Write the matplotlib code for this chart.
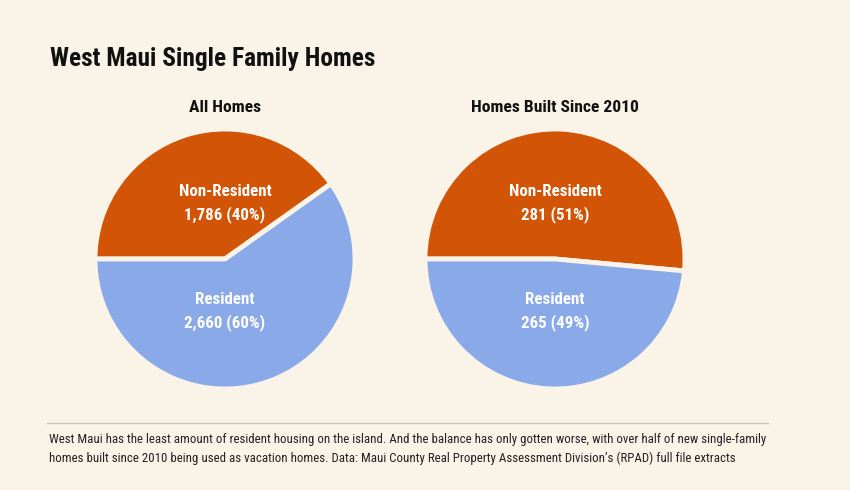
import matplotlib
matplotlib.use("Agg")
import matplotlib.pyplot as plt
from matplotlib import font_manager as fm

# Data
labels = ["Non-Resident", "Resident"]
all_homes = [1786, 2660]
all_pct = [40, 60]
new_homes = [281, 265]
new_pct = [51, 49]
panel_titles = ["All Homes", "Homes Built Since 2010"]
title = "West Maui Single Family Homes"
footer = ("West Maui has the least amount of resident housing on the island. And the balance has only gotten worse, with over half of new single-family\n"
          "homes built since 2010 being used as vacation homes. Data: Maui County Real Property Assessment Division\u2019s (RPAD) full file extracts")

BG = "#faf3e8"
ORANGE = "#d25406"
BLUE = "#89a9e9"

names = {f.name for f in fm.fontManager.ttflist}
cond = None
for cand in ["Roboto Condensed", "Liberation Sans Narrow", "DejaVu Sans Condensed", "Open Sans Condensed"]:
    if cand in names:
        cond = cand
        break
if cond is None:
    cond = "DejaVu Sans"
    STRETCH = "condensed"
else:
    STRETCH = "normal"

W, H = 850, 490
fig = plt.figure(figsize=(W / 100, H / 100), dpi=100, facecolor=BG)

def px_axes(cx, cy, r):
    return fig.add_axes([(cx - r) / W, (H - cy - r) / H, 2 * r / W, 2 * r / H])

datasets = [(all_homes, all_pct, 225), (new_homes, new_pct, 555)]
for (vals, pcts, cx), ptitle in zip(datasets, panel_titles):
    ax = px_axes(cx, 259, 130)
    ax.set_facecolor(BG)
    ax.pie(vals, colors=[ORANGE, BLUE], startangle=180, counterclock=False,
           radius=1.0, wedgeprops=dict(edgecolor=BG, linewidth=3.5))
    ax.set_xlim(-1.0, 1.0)
    ax.set_ylim(-1.0, 1.0)
    ax.set_aspect("equal")
    ax.axis("off")
    kw = dict(ha="center", va="center", color="white", fontsize=12.2, fontweight="bold",
              family=cond, fontstretch=STRETCH)
    ax.text(0, 0.52, labels[0], **kw)
    ax.text(0, 0.345, f"{vals[0]:,} ({pcts[0]}%)", **kw)
    ax.text(0, -0.31, labels[1], **kw)
    ax.text(0, -0.49, f"{vals[1]:,} ({pcts[1]}%)", **kw)
    fig.text(cx / W, 1 - 107 / H, ptitle, ha="center", va="center", fontsize=12.6,
             fontweight="bold", family=cond, fontstretch=STRETCH, color="#111111")

fig.text(50 / W, 1 - 59 / H, title, ha="left", va="center", fontsize=18.3,
         fontweight="bold", family=cond, fontstretch=STRETCH, color="#111111")

fig.add_artist(plt.Line2D([47 / W, 768 / W], [1 - 423 / H, 1 - 423 / H],
                          color="#c8c4bc", linewidth=1.0))
fig.text(49 / W, 1 - 449 / H, footer, ha="left", va="center", fontsize=9.3,
         family=cond, fontstretch=STRETCH, color="#222222", linespacing=1.55)

fig.savefig("out.png", dpi=100, facecolor=BG)
